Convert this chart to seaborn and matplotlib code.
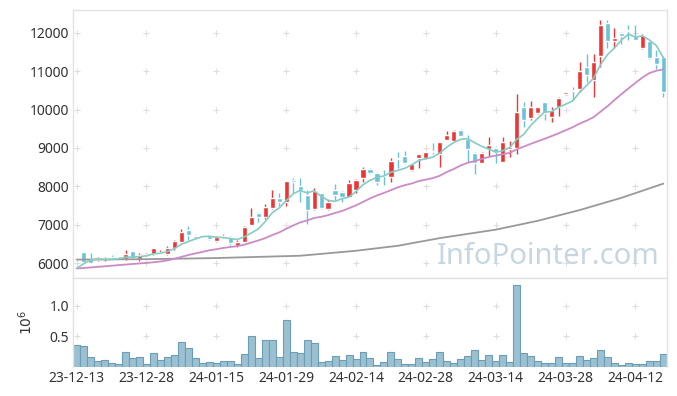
import numpy as np
import pandas as pd
import seaborn as sns
import matplotlib.pyplot as plt

sns.set_style("white")
plt.rcParams['font.family'] = ['Noto Sans', 'DejaVu Sans']

# trading days (KRX holidays removed)
holidays = ['2023-12-25', '2023-12-29', '2024-01-01', '2024-02-09',
            '2024-02-12', '2024-03-01', '2024-04-10']
dates = pd.bdate_range('2023-12-13', '2024-04-18').drop(pd.to_datetime(holidays))

opens = [6150, 6290, 6100, 6090, 6100, 6160, 6140, 6100, 6310, 6100,
         6200, 6230, 6270, 6230, 6380, 6560, 6860, 6710, 6730, 6710,
         6570, 6710, 6690, 6440, 6560, 6990, 7310, 7210, 7440, 7700,
         7580, 8170, 8020, 7770, 7410, 7820, 7410, 7900, 7860, 7730,
         7900, 8230, 8450, 8360, 8290, 8250, 8750, 8790, 8430, 8750,
         8730, 8910, 8840, 9210, 9180, 9470, 9230, 8860, 8620, 8970,
         8990, 8640, 8970, 9010, 10060, 9780, 9900, 10190, 9820, 10060,
         10400, 10510, 10540, 11120, 10770, 11410, 12250, 11800, 12010, 12080,
         11930, 11600, 11780, 11380, 11380]
closes = [6120, 6030, 6010, 6140, 6140, 6140, 6120, 6230, 6140, 6210,
          6240, 6380, 6300, 6380, 6570, 6820, 6730, 6640, 6680, 6620,
          6690, 6690, 6510, 6560, 6950, 7210, 7210, 7470, 7700, 7600,
          8140, 8120, 7900, 7380, 7880, 7430, 7580, 7770, 7730, 8090,
          8170, 8450, 8340, 8120, 8270, 8660, 8700, 8600, 8580, 8840,
          8890, 8890, 9150, 9340, 9440, 9310, 8970, 8620, 8880, 9080,
          8900, 9160, 9030, 9950, 9730, 10060, 10060, 9900, 9990, 10300,
          10450, 10480, 11010, 10900, 11250, 12210, 11800, 11870, 11930, 12040,
          11820, 11950, 11340, 11180, 10470]
highs = [6170, 6300, 6260, 6170, 6170, 6200, 6170, 6340, 6320, 6260,
         6260, 6400, 6340, 6440, 6600, 6900, 6960, 6720, 6740, 6730,
         6710, 6760, 6700, 6600, 6960, 7440, 7320, 7550, 7900, 7830,
         8150, 8210, 8210, 7900, 7960, 7830, 7640, 8050, 7870, 8170,
         8180, 8510, 8470, 8370, 8430, 8730, 8900, 8930, 8590, 8850,
         8900, 9120, 9160, 9440, 9460, 9490, 9350, 8900, 8900, 9280,
         9000, 9280, 9170, 10400, 10210, 10230, 10070, 10200, 10080, 10340,
         10460, 10600, 11250, 11440, 11440, 12340, 12340, 12140, 12020, 12210,
         12210, 11960, 11800, 11560, 11390]
lows = [6100, 6020, 6000, 6060, 6060, 6110, 6100, 6090, 6130, 6060,
        6180, 6210, 6250, 6220, 6350, 6520, 6600, 6630, 6670, 6600,
        6560, 6650, 6480, 6430, 6550, 6980, 7080, 7160, 7400, 7500,
        7480, 7820, 7600, 7020, 7390, 7420, 7380, 7640, 7600, 7720,
        7830, 8100, 8330, 8030, 8030, 8110, 8490, 8590, 8410, 8470,
        8720, 8850, 8500, 9200, 9170, 9300, 8640, 8320, 8610, 8800,
        8620, 8630, 8760, 8840, 9540, 9730, 9890, 9730, 9690, 9840,
        10390, 10250, 10470, 10720, 10330, 11120, 11600, 11600, 11710, 11810,
        11810, 11580, 11330, 11050, 10340]
volumes = [0.36, 0.34, 0.16, 0.10, 0.12, 0.065, 0.05, 0.245, 0.15, 0.16,
           0.05, 0.23, 0.12, 0.16, 0.195, 0.41, 0.31, 0.15, 0.065, 0.08,
           0.065, 0.10, 0.10, 0.05, 0.21, 0.505, 0.15, 0.44, 0.44, 0.16,
           0.77, 0.245, 0.23, 0.44, 0.39, 0.08, 0.10, 0.18, 0.115, 0.195,
           0.13, 0.245, 0.15, 0.03, 0.08, 0.245, 0.13, 0.05, 0.05, 0.15,
           0.08, 0.13, 0.245, 0.10, 0.065, 0.13, 0.18, 0.28, 0.115, 0.195,
           0.10, 0.195, 0.08, 1.33, 0.23, 0.18, 0.10, 0.065, 0.065, 0.16,
           0.065, 0.065, 0.18, 0.115, 0.15, 0.28, 0.16, 0.065, 0.03, 0.065,
           0.05, 0.05, 0.10, 0.10, 0.21]

# moving averages: first values (history before 23-12-13)
ma5_head = [5860, 5980, 6080, 6100]
ma20_head = [5860, 5870, 5885, 5900, 5915, 5930, 5945, 5960, 5975, 5990,
             6005, 6020, 6040, 6070, 6110, 6160, 6210, 6250, 6290]
# long moving average, read at a few bars
ma_long_idx = [0, 10, 20, 32, 40, 46, 52, 60, 66, 72, 78, 84]
ma_long = [6090, 6100, 6130, 6190, 6320, 6450, 6650, 6870, 7100, 7380, 7700, 8070]

df = pd.DataFrame({'date': dates, 'open': opens, 'high': highs, 'low': lows,
                   'close': closes, 'volume': volumes})
df['i'] = np.arange(len(df))
ma5 = df['close'].rolling(5).mean().values
ma5[:4] = ma5_head
ma20 = df['close'].rolling(20).mean().values
ma20[:19] = ma20_head

up_c, down_c = '#ec3535', '#6cc2d8'
grid_c = '#dedede'
spine_c = '#e2e2e2'

fig = plt.figure(figsize=(6.77, 3.96), dpi=100)
ax = fig.add_axes([0.108, 0.298, 0.877, 0.677])
axv = fig.add_axes([0.108, 0.073, 0.877, 0.225], sharex=ax)

# grid crosses
xt = np.arange(0, 85, 10)
gx, gy = np.meshgrid(xt, np.arange(6000, 12001, 1000))
ax.scatter(gx.ravel(), gy.ravel(), marker='+', s=16, color=grid_c, lw=0.8, zorder=0)
gx, gy = np.meshgrid(xt, [0.5, 1.0])
axv.scatter(gx.ravel(), gy.ravel(), marker='+', s=16, color=grid_c, lw=0.8, zorder=0)

ax.text(0.988, 0.025, 'InfoPointer.com', transform=ax.transAxes, ha='right', va='bottom',
        fontsize=21, color='#c6d7e1', zorder=0)

# candles
up = df['close'] >= df['open']
colors = np.where(up, up_c, down_c)
body_lo = df[['open', 'close']].min(axis=1)
body_h = (df['close'] - df['open']).abs().clip(lower=18)
ax.vlines(df['i'], df['low'], df['high'], colors=colors, lw=1.0, zorder=2)
ax.bar(df['i'], body_h, bottom=body_lo, width=0.74, color=colors, zorder=3)

sns.lineplot(x=ma_long_idx, y=ma_long, ax=ax, color='#999999', lw=1.3, zorder=4)
sns.lineplot(x=df['i'], y=ma20, ax=ax, color='#cc8ac6', lw=1.3, zorder=4)
sns.lineplot(x=df['i'], y=ma5, ax=ax, color='#86cbc4', lw=1.2, zorder=4)

# volume
sns.barplot(x=df['i'], y=df['volume'], ax=axv, native_scale=True, width=1.0,
            color='#9bc0d2', edgecolor='#6b9db5', linewidth=0.8, saturation=1)

ax.set_xlim(-0.5, 84.5)
ax.set_ylim(5610, 12600)
ax.set_yticks(np.arange(6000, 12001, 1000))
axv.set_ylim(0, 1.45)
axv.set_yticks([0.5, 1.0])
axv.set_yticklabels(['0.5', '1.0'])
axv.set_xticks(xt)
axv.set_xticklabels([dates[k].strftime('%y-%m-%d') for k in xt])
ax.tick_params(labelbottom=False)

for a in (ax, axv):
    a.set_xlabel('')
    a.set_ylabel('')
    a.tick_params(length=0, labelsize=10, colors='#333333', pad=3)
    for s in a.spines.values():
        s.set_color(spine_c)
        s.set_linewidth(1)
axv.spines['bottom'].set_visible(False)
axv.set_ylabel(r'$10^{6}$', fontsize=10, color='#333333', labelpad=10)

fig.savefig('out.png', dpi=100)
